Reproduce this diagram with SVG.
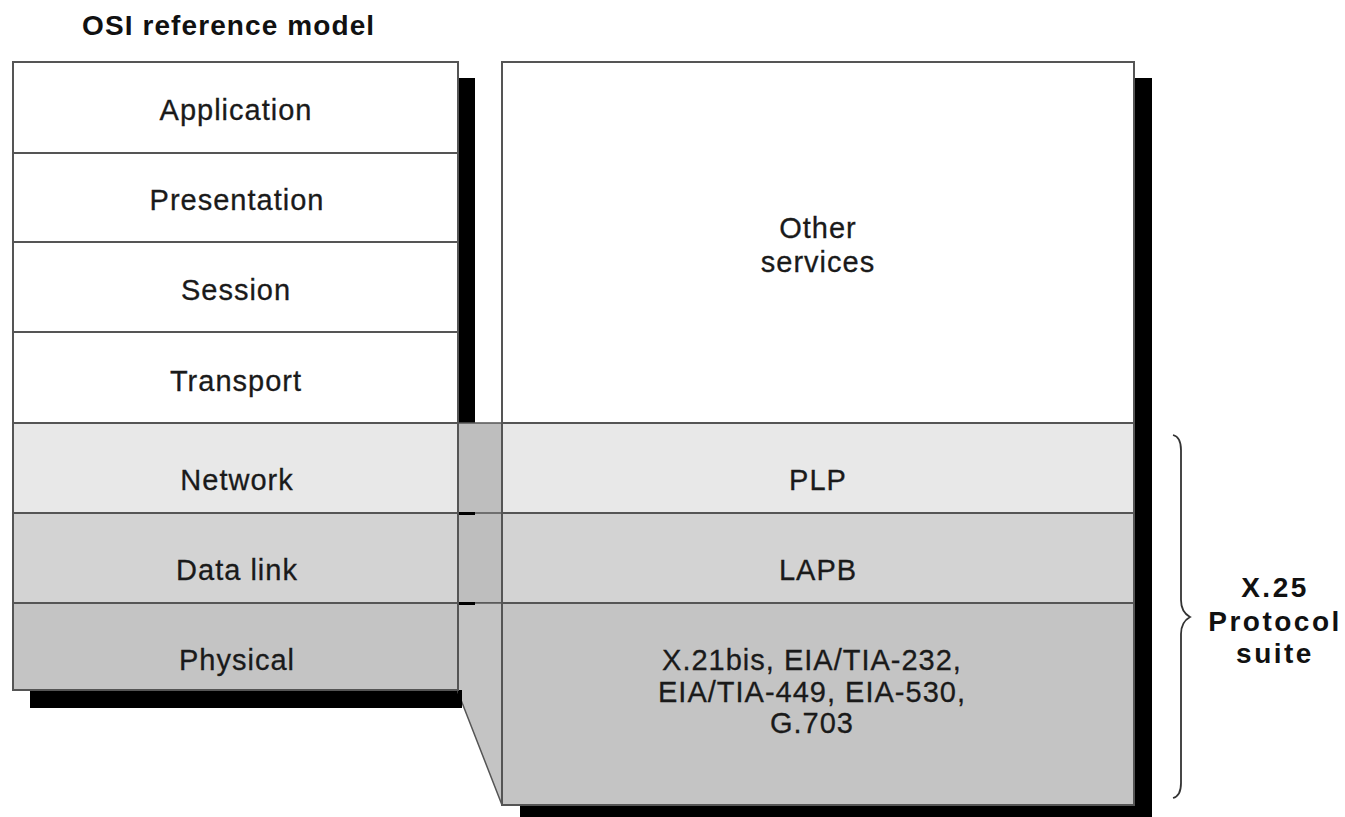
<svg xmlns="http://www.w3.org/2000/svg" width="1345" height="817" viewBox="0 0 1345 817">
<style>
.box{stroke:#555;stroke-width:2}
.w{fill:#ffffff}
.l1{fill:#e8e8e8}
.l2{fill:#d3d3d3}
.l3{fill:#c4c4c4}
.sh{fill:#000}
.t{font-family:"Liberation Sans",Arial,sans-serif;font-size:29px;letter-spacing:1px;fill:#1a1a1a;stroke:#1a1a1a;stroke-width:0.3;text-anchor:middle}
.b{font-family:"Liberation Sans",Arial,sans-serif;font-size:28px;font-weight:bold;fill:#111}
</style>
<rect width="1345" height="817" fill="#fff"/>
<text class="b" x="82" y="35" letter-spacing="1.1">OSI reference model</text>
<g id="shadows">
<rect class="sh" x="458" y="78" width="17" height="346"/>
<rect class="sh" x="30" y="690" width="432" height="18"/>
<rect class="sh" x="1134" y="78" width="18" height="740"/>
<rect class="sh" x="520" y="804" width="632" height="14"/>
</g>
<g id="connectors">
<rect x="458" y="423" width="44" height="180" fill="#bebebe" stroke="#555" stroke-width="1.5"/>
<line x1="458" y1="513" x2="502" y2="513" stroke="#555" stroke-width="1.5"/>
<polygon points="458,603 502,603 502,805 461,700 458,692" fill="#c4c4c4" stroke="#555" stroke-width="1.5"/>
<rect class="sh" x="458" y="512" width="17" height="3"/>
<rect class="sh" x="458" y="602" width="17" height="3"/>
<rect class="sh" x="458" y="690" width="4" height="18"/>
</g>
<g id="osi">
<g id="app"><rect class="box w" x="13" y="62" width="445" height="91"/><text class="t" x="236" y="120">Application</text></g>
<g id="pres"><rect class="box w" x="13" y="153" width="445" height="89"/><text class="t" x="237" y="210">Presentation</text></g>
<g id="sess"><rect class="box w" x="13" y="242" width="445" height="90"/><text class="t" x="236" y="300">Session</text></g>
<g id="trans"><rect class="box w" x="13" y="332" width="445" height="91"/><text class="t" x="236" y="391">Transport</text></g>
<g id="net"><rect class="box l1" x="13" y="423" width="445" height="90"/><text class="t" x="237" y="490">Network</text></g>
<g id="dl"><rect class="box l2" x="13" y="513" width="445" height="90"/><text class="t" x="237" y="580">Data link</text></g>
<g id="phys"><rect class="box l3" x="13" y="603" width="445" height="87"/><text class="t" x="237" y="670">Physical</text></g>
</g>
<g id="x25">
<g id="other"><rect class="box w" x="502" y="62" width="632" height="361"/><text class="t" x="818" y="238">Other</text><text class="t" x="818" y="272">services</text></g>
<g id="plp"><rect class="box l1" x="502" y="423" width="632" height="90"/><text class="t" x="818" y="490">PLP</text></g>
<g id="lapb"><rect class="box l2" x="502" y="513" width="632" height="90"/><text class="t" x="818" y="580">LAPB</text></g>
<g id="x21"><rect class="box l3" x="502" y="603" width="632" height="202"/>
<text class="t" x="812" y="670">X.21bis, EIA/TIA-232,</text>
<text class="t" x="812" y="702">EIA/TIA-449, EIA-530,</text>
<text class="t" x="812" y="733">G.703</text></g>
</g>
<g id="brace">
<path d="M1173,435 Q1181,437 1181,450 L1181,600 Q1181,612 1190,617 Q1181,622 1181,634 L1181,783 Q1181,796 1173,798" fill="none" stroke="#333" stroke-width="1.8"/>
<text class="b" x="1275" y="597" text-anchor="middle" letter-spacing="2.5">X.25</text>
<text class="b" x="1275" y="631" text-anchor="middle" letter-spacing="2.5">Protocol</text>
<text class="b" x="1275" y="663" text-anchor="middle" letter-spacing="2.5">suite</text>
</g>
</svg>
